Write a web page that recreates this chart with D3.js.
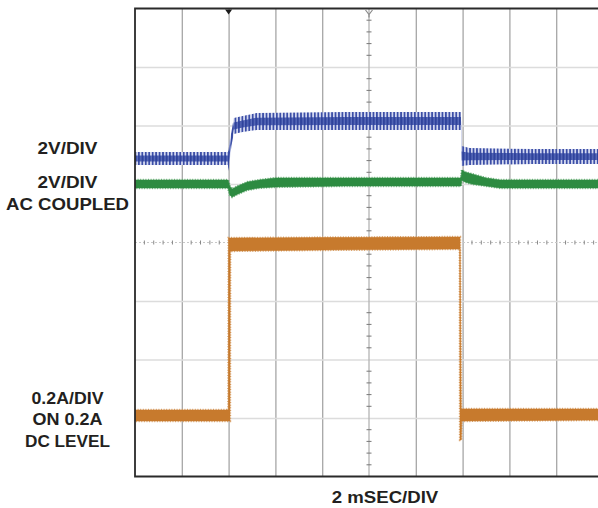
<!DOCTYPE html>
<html>
<head>
<meta charset="utf-8">
<script src="https://cdn.jsdelivr.net/npm/d3@7/dist/d3.min.js"></script>
<style>
  html, body { margin: 0; padding: 0; background: #fff; }
  svg { display: block; }
  text { font-family: "Liberation Sans", Arial, Helvetica, sans-serif; font-weight: bold; fill: #231f20; }
</style>
</head>
<body>
<svg id="scope" width="598" height="508"></svg>
<script>
// Time axis: 2 ms per division, 10 divisions; vertical: 8 screen divisions, 0 at centre.
const timeDivTicks = [0, 2, 4, 6, 8, 10, 12, 14, 16, 18, 20];
const vertDivTicks = [-4, -3, -2, -1, 0, 1, 2, 3, 4];

// Upper trace (output voltage ripple), 2 V/div: time (ms), band top/bottom (div)
const blueTime = [0, 3.97, 4.0, 4.05, 4.12, 4.22, 4.6, 5.2, 9, 13.93, 13.96, 14.3, 17, 20];
const blueHigh = [1.547, 1.547, 1.581, 1.752, 1.889, 2.128, 2.162, 2.214, 2.231, 2.231, 1.650, 1.615, 1.598, 1.598];
const blueLow  = [1.325, 1.325, 1.222, 1.410, 1.650, 1.855, 1.889, 1.923, 1.923, 1.923, 1.308, 1.325, 1.342, 1.342];

// AC-coupled trace, 2 V/div: time (ms), band top/bottom (div)
const greenTime = [0, 3.98, 4.05, 4.15, 4.4, 4.8, 5.3, 6.0, 9, 13.93, 13.97, 14.1, 14.4, 15.0, 15.6, 20];
const greenHigh = [1.068, 1.068, 0.966, 0.915, 0.966, 1.034, 1.068, 1.103, 1.103, 1.103, 1.239, 1.205, 1.171, 1.103, 1.068, 1.068];
const greenLow  = [0.932, 0.932, 0.812, 0.778, 0.829, 0.897, 0.932, 0.949, 0.966, 0.966, 1.068, 1.034, 1.000, 0.966, 0.932, 0.932];

// Load current, 0.2 A/div on 0.2 A DC level: time (ms), band top/bottom (div)
const orangeTime = [0, 3.99, 4.0, 4.06, 4.07, 8, 13.88, 13.89, 13.94, 13.96, 14, 20];
const orangeHigh = [-2.863, -2.863, 0.077, 0.077, 0.077, 0.085, 0.094, 0.094, -2.846, -2.846, -2.846, -2.846];
const orangeLow  = [-3.051, -3.051, -3.051, -3.051, -0.145, -0.128, -0.111, -3.376, -3.376, -3.051, -3.051, -3.034];

const leftLabels = [
  { text: "2V/DIV", y: 154, len: 60 },
  { text: "2V/DIV", y: 188, len: 60 },
  { text: "AC COUPLED", y: 210, len: 123 },
  { text: "0.2A/DIV", y: 404, len: 72 },
  { text: "ON 0.2A", y: 425, len: 70 },
  { text: "DC LEVEL", y: 446.5, len: 85 }
];
const timeLabel = "2 mSEC/DIV";

const svg = d3.select("#scope");
const plotLeft = 135, plotTop = 8.5, plotBottom = 476.5, plotRight = 598;

const x = d3.scaleLinear().domain([0, 20]).range([plotLeft, 603]);
const y = d3.scaleLinear().domain([-4, 4]).range([plotBottom, plotTop]);

const defs = svg.append("defs");
defs.append("clipPath").attr("id", "plotClip")
  .append("rect").attr("x", plotLeft).attr("y", plotTop)
  .attr("width", plotRight - plotLeft).attr("height", plotBottom - plotTop);

// Switching ripple texture: vertical strokes, denser near the middle of the band
function stripePattern(id, bg, fg, w) {
  const p = defs.append("pattern").attr("id", id)
    .attr("patternUnits", "userSpaceOnUse").attr("width", 3.45).attr("height", 20);
  p.append("rect").attr("width", 3.45).attr("height", 20).attr("fill", bg);
  p.append("rect").attr("width", w).attr("height", 20).attr("fill", fg);
}
stripePattern("rippleOuter", "#d3d8ef", "#3a4da6", 1.7);
stripePattern("rippleCore", "#5d6fbd", "#2f439c", 2.2);

const plot = svg.append("g").attr("clip-path", "url(#plotClip)");

// Vertical grid (division lines other than the centre line)
plot.append("g")
  .attr("transform", `translate(0,${plotBottom})`)
  .call(d3.axisBottom(x).tickValues(timeDivTicks.filter(d => d !== 0 && d !== 10 && d !== 20))
    .tickSize(-(plotBottom - plotTop)).tickFormat(""))
  .call(g => g.select(".domain").remove())
  .call(g => g.selectAll(".tick line").attr("stroke", "#a6a6a6").attr("stroke-width", 1.3));

// Horizontal grid
plot.append("g")
  .attr("transform", `translate(${plotLeft},0)`)
  .call(d3.axisLeft(y).tickValues(vertDivTicks.filter(d => d !== 0 && Math.abs(d) !== 4))
    .tickSize(-(plotRight - plotLeft)).tickFormat(""))
  .call(g => g.select(".domain").remove())
  .call(g => g.selectAll(".tick line").attr("stroke", "#dcdcdc").attr("stroke-width", 1.6));

// Centre graticule lines with minor ticks
plot.append("line")
  .attr("x1", x(10)).attr("x2", x(10)).attr("y1", plotTop).attr("y2", plotBottom)
  .attr("stroke", "#b4b4b4").attr("stroke-width", 1.3);
plot.append("line")
  .attr("x1", plotLeft).attr("x2", plotRight).attr("y1", y(0)).attr("y2", y(0))
  .attr("stroke", "#c8c8c8").attr("stroke-width", 1).attr("stroke-dasharray", "2,2");

const minorY = d3.range(-20, 21).map(i => i / 5).filter(d => Math.abs(d) < 4 && Math.abs(d - Math.round(d)) > 0.01);
plot.append("g").selectAll("line").data(minorY).join("line")
  .attr("x1", x(10) - 2.5).attr("x2", x(10) + 2.5)
  .attr("y1", d => y(d)).attr("y2", d => y(d))
  .attr("stroke", "#777").attr("stroke-width", 1);

const minorX = d3.range(1, 50).map(i => i * 0.4).filter(d => Math.abs(d / 2 - Math.round(d / 2)) > 0.01);
plot.append("g").selectAll("line").data(minorX).join("line")
  .attr("x1", d => x(d)).attr("x2", d => x(d))
  .attr("y1", y(0) - 2).attr("y2", y(0) + 2)
  .attr("stroke", "#888").attr("stroke-width", 1);

// Traces drawn as min/max envelope bands
const band = (t, hi, lo) => d3.area()
  .x((d, i) => x(t[i]))
  .y0((d, i) => y(lo[i]))
  .y1((d, i) => y(hi[i]))(t);

function noisyBand(t, hi, lo, color, halo) {
  const d = band(t, hi, lo);
  plot.append("path").attr("d", d)
    .attr("fill", "none").attr("stroke", halo).attr("stroke-width", 2.4)
    .attr("stroke-dasharray", "1 1.6");
  plot.append("path").attr("d", d)
    .attr("fill", color).attr("stroke", color).attr("stroke-width", 0.6);
}

noisyBand(orangeTime, orangeHigh, orangeLow, "#c77a2d", "#dca772");
noisyBand(greenTime, greenHigh, greenLow, "#2d8b41", "#7dbb89");

// Ripple band: full envelope plus a denser core around its middle
plot.append("path")
  .attr("d", band(blueTime, blueHigh, blueLow))
  .attr("fill", "url(#rippleOuter)");
const blueMid = blueHigh.map((h, i) => (h + blueLow[i]) / 2);
const blueHalf = blueHigh.map((h, i) => (h - blueLow[i]) / 2);
plot.append("path")
  .attr("d", band(blueTime, blueMid.map((m, i) => m + blueHalf[i] * 0.45), blueMid.map((m, i) => m - blueHalf[i] * 0.45)))
  .attr("fill", "url(#rippleCore)");

// Frame (right side runs off the page)
svg.append("path")
  .attr("d", `M${plotRight},${plotTop}H${plotLeft}V${plotBottom}H${plotRight}`)
  .attr("fill", "none").attr("stroke", "#2a2a2a").attr("stroke-width", 1.8);

// Trigger position and centre markers on the top edge
svg.append("path")
  .attr("d", `M${x(4) - 3.5},${plotTop + 1}L${x(4) + 3.5},${plotTop + 1}L${x(4)},${plotTop + 6}Z`)
  .attr("fill", "#1a1a1a");
svg.append("path")
  .attr("d", `M${x(10) - 3.5},${plotTop + 1.5}L${x(10)},${plotTop + 6}L${x(10) + 3.5},${plotTop + 1.5}M${x(10)},${plotTop + 6}V${plotTop + 9}`)
  .attr("fill", "none").attr("stroke", "#8a8a8a").attr("stroke-width", 1.2);

// Channel scale labels
svg.append("g").selectAll("text").data(leftLabels).join("text")
  .attr("x", 67.5).attr("y", d => d.y)
  .attr("text-anchor", "middle")
  .attr("font-size", 16.5)
  .attr("textLength", d => d.len).attr("lengthAdjust", "spacingAndGlyphs")
  .text(d => d.text);

svg.append("text")
  .attr("x", 385).attr("y", 502.5)
  .attr("text-anchor", "middle")
  .attr("font-size", 16.5)
  .attr("textLength", 106.5).attr("lengthAdjust", "spacingAndGlyphs")
  .text(timeLabel);
</script>
</body>
</html>
